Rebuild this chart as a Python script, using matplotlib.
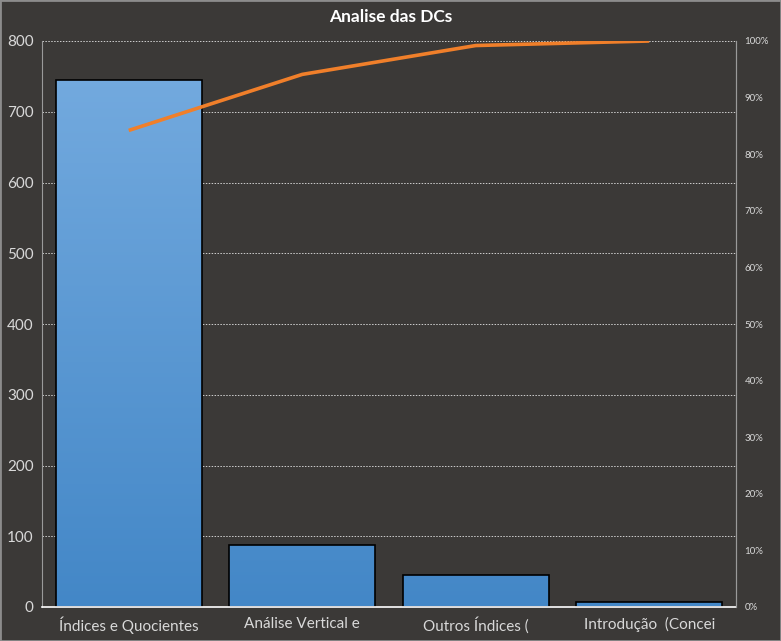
import matplotlib
matplotlib.use("Agg")
import matplotlib.pyplot as plt
import numpy as np
from matplotlib.colors import LinearSegmentedColormap

categories = ["Índices e Quocientes", "Análise Vertical e", "Outros Índices (", "Introdução  (Concei"]
counts = [745, 88, 45, 7]
cum_pct = [84.2, 94.1, 99.2, 100.0]
y_ticks = [0, 100, 200, 300, 400, 500, 600, 700, 800]
pct_ticks = [0, 10, 20, 30, 40, 50, 60, 70, 80, 90, 100]

bg = "#3b3937"
txt = "#d9d9d9"
plt.rcParams['font.family'] = ['Lato', 'DejaVu Sans']

fig = plt.figure(figsize=(7.81, 6.41), dpi=100, facecolor=bg)
ax = fig.add_axes([42/781, 1-607/641, (736-42)/781, (607-41)/641])
ax.set_facecolor(bg)
x = np.arange(len(categories))
bars = ax.bar(x, counts, width=0.84, color="none", edgecolor="black", linewidth=1.2, zorder=3)
cmap = LinearSegmentedColormap.from_list("g", ["#4387c7", "#76ace0"])
grad = np.linspace(0, 1, 256).reshape(-1, 1)
for b in bars:
    im = ax.imshow(grad, cmap=cmap, origin="lower", aspect="auto",
                   extent=[-0.5, 3.5, 0, 800], zorder=2)
    im.set_clip_path(b)
ax.set_xlim(-0.5, 3.5)
ax.set_ylim(0, 800)
ax.set_yticks(y_ticks)
ax.set_xticks(x)
ax.set_xticklabels(categories)
ax.tick_params(axis='both', colors=txt, length=0, labelsize=11, pad=6)
ax.tick_params(axis='x', pad=7)
for yv in y_ticks[1:]:
    ax.axhline(yv, color="#cfcfcf", linestyle=(0, (1.5, 1.5)), linewidth=0.7, zorder=1)
ax.spines["top"].set_visible(False)
ax.spines["left"].set_color("#9a9a9a")
ax.spines["right"].set_color("#9a9a9a")
ax.spines["bottom"].set_color("white")
ax.spines["bottom"].set_linewidth(1.2)
ax.spines["bottom"].set_zorder(5)

ax2 = ax.twinx()
ax2.set_ylim(0, 100)
ax2.set_yticks(pct_ticks)
ax2.set_yticklabels([f"{p}%" for p in pct_ticks])
ax2.tick_params(axis='y', colors=txt, length=0, labelsize=7, pad=6)
ax2.plot(x, cum_pct, color="#f07f2a", linewidth=2.6, zorder=4, solid_capstyle="butt")
for s in ["top", "left", "bottom"]:
    ax2.spines[s].set_visible(False)
ax2.spines["right"].set_color("#9a9a9a")

fig.text(0.5, 1-17/641, "Analise das DCs", ha="center", va="center", color="white",
         fontsize=12.5, fontweight="bold")
fig.patches.append(plt.Rectangle((0, 0), 1, 1, transform=fig.transFigure, fill=False,
                                 edgecolor="#8c8c8c", linewidth=2))
fig.savefig("out.png", dpi=100, facecolor=bg)
